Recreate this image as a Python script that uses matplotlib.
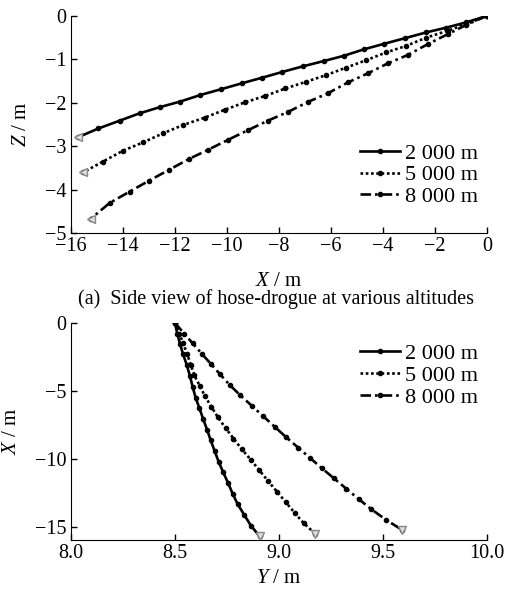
import matplotlib
matplotlib.use("Agg")
import matplotlib.pyplot as plt

plt.rcParams["font.family"] = ["Liberation Serif", "DejaVu Serif"]
plt.rcParams["mathtext.fontset"] = "custom"
plt.rcParams["mathtext.it"] = "Liberation Serif:italic"
plt.rcParams["mathtext.rm"] = "Liberation Serif"
plt.rcParams["font.size"] = 14

# =========================
# DATA
# =========================
labels = ["2 000 m", "5 000 m", "8 000 m"]

# side view: X (m) and Z (m) for each altitude
x_2000 = [0, -0.80, -1.56, -2.33, -3.13, -3.94, -4.73, -5.51, -6.28, -7.07, -7.87,
          -8.63, -9.42, -10.24, -11.02, -11.79, -12.58, -13.35, -14.12, -14.94, -15.72]
z_2000 = [0, -0.15, -0.27, -0.38, -0.51, -0.64, -0.77, -0.92, -1.04, -1.16, -1.29,
          -1.42, -1.55, -1.69, -1.82, -1.97, -2.10, -2.24, -2.41, -2.59, -2.79]
x_5000 = [0, -0.80, -1.50, -2.33, -3.10, -3.87, -4.64, -5.41, -6.17, -6.97, -7.75,
          -8.52, -9.31, -10.08, -10.85, -11.68, -12.45, -13.22, -13.99, -14.76, -15.53]
z_5000 = [0, -0.19, -0.34, -0.50, -0.69, -0.84, -1.02, -1.19, -1.36, -1.52, -1.67,
          -1.84, -1.99, -2.16, -2.34, -2.51, -2.70, -2.91, -3.10, -3.35, -3.60]
x_8000 = [0, -0.80, -1.50, -2.27, -3.04, -3.80, -4.57, -5.34, -6.11, -6.88, -7.65,
          -8.42, -9.19, -9.95, -10.72, -11.45, -12.22, -12.99, -13.73, -14.50, -15.24]
z_8000 = [0, -0.21, -0.42, -0.65, -0.90, -1.09, -1.32, -1.53, -1.78, -1.98, -2.21,
          -2.41, -2.63, -2.85, -3.08, -3.29, -3.54, -3.79, -4.04, -4.30, -4.67]

# top view: Y (m) against the same X points
y_2000 = [8.500, 8.512, 8.525, 8.540, 8.558, 8.573, 8.586, 8.600, 8.618, 8.636, 8.655,
          8.672, 8.691, 8.711, 8.733, 8.756, 8.778, 8.802, 8.833, 8.866, 8.908]
y_5000 = [8.500, 8.522, 8.540, 8.560, 8.577, 8.594, 8.620, 8.645, 8.675, 8.708, 8.744,
          8.782, 8.822, 8.865, 8.906, 8.950, 8.992, 9.034, 9.076, 9.120, 9.175]
y_8000 = [8.500, 8.545, 8.585, 8.629, 8.674, 8.718, 8.763, 8.815, 8.870, 8.925, 8.980,
          9.035, 9.093, 9.150, 9.208, 9.265, 9.325, 9.385, 9.445, 9.515, 9.592]

xs = [x_2000, x_5000, x_8000]
zs = [z_2000, z_5000, z_8000]
ys = [y_2000, y_5000, y_8000]
styles = ["-", (0, (1, 1)), (0, (4, 1.5, 1, 1.5))]

fig = plt.figure(figsize=(5.06, 5.89), dpi=100)
ax1 = fig.add_axes([0.140, 0.604, 0.822, 0.369])
ax2 = fig.add_axes([0.140, 0.083, 0.822, 0.369])

for ax in (ax1, ax2):
    ax.spines["top"].set_visible(False)
    ax.spines["right"].set_visible(False)
    ax.tick_params(direction="in", length=4, width=1, labelsize=14.5, pad=3)

leg_kw = dict(frameon=False, fontsize=16, numpoints=1, handlelength=1.8,
              handletextpad=0.2, labelspacing=0.05, borderaxespad=0)

# =========================
# (a) SIDE VIEW
# =========================
for x, z, ls, lab in zip(xs, zs, styles, labels):
    ax1.plot(x, z, color="black", linestyle=ls, linewidth=1.9,
             marker="o", markersize=3, label=lab)
    ax1.plot(x[-1], z[-1], marker="<", markersize=6, color="#888888",
             markerfacecolor="#dddddd", linestyle="none")

ax1.set_xlim(-16, 0)
ax1.set_ylim(-5, 0)
ax1.set_xticks(range(-16, 1, 2))
ax1.set_yticks(range(-5, 1))
ax1.set_xlabel(r"$X$ / m", fontsize=15, labelpad=11)
ax1.set_ylabel(r"$Z$ / m", fontsize=15, labelpad=10)
ax1.legend(loc="lower right", bbox_to_anchor=(1.0, 0.08), **leg_kw)

fig.text(0.545, 0.492, "(a)  Side view of hose-drogue at various altitudes",
         ha="center", va="center", fontsize=14.5)

# =========================
# (b) TOP VIEW
# =========================
for x, y, ls, lab in zip(xs, ys, styles, labels):
    ax2.plot(y, x, color="black", linestyle=ls, linewidth=1.9,
             marker="o", markersize=3, label=lab)
    ax2.plot(y[-1], x[-1], marker="v", markersize=6, color="#888888",
             markerfacecolor="#dddddd", linestyle="none")

ax2.set_xlim(8.0, 10.0)
ax2.set_ylim(-16, 0)
ax2.set_xticks([8.0, 8.5, 9.0, 9.5, 10.0])
ax2.set_xticklabels(["8.0", "8.5", "9.0", "9.5", "10.0"])
ax2.set_yticks([0, -5, -10, -15])
ax2.set_xlabel(r"$Y$ / m", fontsize=15, labelpad=4)
ax2.set_ylabel(r"$X$ / m", fontsize=15, labelpad=10)
ax2.legend(loc="upper right", bbox_to_anchor=(1.0, 0.945), **leg_kw)

fig.savefig("out.png", dpi=100)
